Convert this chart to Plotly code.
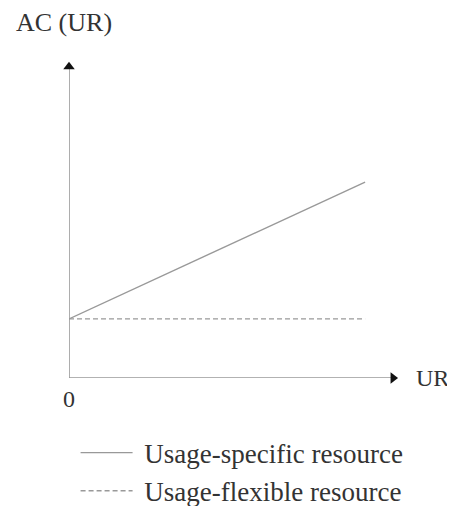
import plotly.graph_objects as go

# Data
ur = [0, 9]
ac_specific = [1.87, 6.2]
ac_flexible = [1.87, 1.87]
series_names = ["Usage-specific resource", "Usage-flexible resource"]
x_tick_vals = [0]
x_tick_text = ["0"]
x_label = "UR"
y_label = "AC (UR)"

FONT = "Liberation Serif"
TXT = "#333333"
LINE = "#999999"
PAD = "\u00a0"  # small gap between legend sample and its text

fig = go.Figure()
fig.add_trace(go.Scatter(x=ur, y=ac_specific, mode="lines", name=PAD + series_names[0],
                         line=dict(color=LINE, width=1.4), legendgroup="a"))
fig.add_trace(go.Scatter(x=ur, y=ac_flexible, mode="lines", name=PAD + series_names[1],
                         line=dict(color=LINE, width=1.4, dash="5px,3px"), legendgroup="b"))

# axis lines
fig.add_shape(type="line", x0=0, y0=0, x1=9.8, y1=0, line=dict(color=LINE, width=1.6), layer="below")
fig.add_shape(type="line", x0=0, y0=0, x1=0, y1=9.8, line=dict(color=LINE, width=1.6), layer="below")
# arrowheads
fig.add_trace(go.Scatter(x=[9.85], y=[0], mode="markers", showlegend=False, hoverinfo="skip",
                         marker=dict(symbol="triangle-right", size=10, color="#111111"), cliponaxis=False))
fig.add_trace(go.Scatter(x=[0], y=[9.85], mode="markers", showlegend=False, hoverinfo="skip",
                         marker=dict(symbol="triangle-up", size=10, color="#111111"), cliponaxis=False))

fig.add_annotation(x=1.0, y=0, xref="paper", yref="y", text=x_label, showarrow=False,
                   xanchor="left", yanchor="middle", xshift=16, font=dict(family=FONT, size=24, color=TXT))
fig.add_annotation(x=0, y=1.0, xref="paper", yref="paper", text=y_label, showarrow=False,
                   xanchor="center", yanchor="bottom", yshift=23, xshift=-5,
                   font=dict(family=FONT, size=26, color=TXT))

fig.update_xaxes(range=[0, 10], showgrid=False, zeroline=False, showline=False,
                 tickvals=x_tick_vals, ticktext=x_tick_text, ticks="",
                 ticklabelstandoff=4,
                 tickfont=dict(family=FONT, size=24, color=TXT))
fig.update_yaxes(range=[0, 10], showgrid=False, zeroline=False, showline=False,
                 showticklabels=False, ticks="")

# page body has an 8px margin; compensate so the plot lands where the reference has it
fig.update_layout(
    width=447, height=498,
    margin=dict(l=61, r=57, t=54, b=128, autoexpand=False),
    plot_bgcolor="white", paper_bgcolor="white",
    showlegend=True,
    legend=dict(x=0.02, y=-0.16, xanchor="left", yanchor="top",
                font=dict(family=FONT, size=27, color=TXT),
                itemwidth=52, tracegroupgap=0, bgcolor="rgba(0,0,0,0)"),
)

fig.write_html("out.html")
